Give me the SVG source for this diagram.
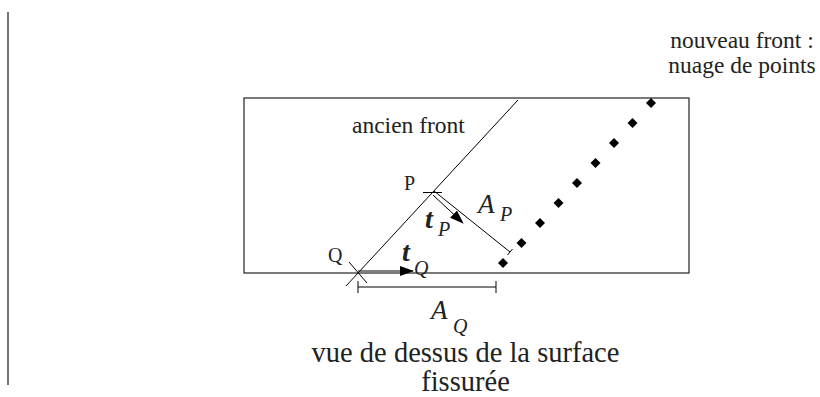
<svg xmlns="http://www.w3.org/2000/svg" width="820" height="397" viewBox="0 0 820 397">
<style>
.ln{stroke:#000;stroke-width:1;fill:none}
text{font-family:'Liberation Serif','Times New Roman',serif;fill:#222}
.it{font-style:italic}
.b{font-weight:bold;font-style:italic}
.pt{fill:#000}
</style>
<defs>
<marker id="ah" markerWidth="14" markerHeight="10" refX="13" refY="5" orient="auto" markerUnits="userSpaceOnUse">
<path d="M0,0 L14,5 L0,10 Z" fill="#000"/>
</marker>
<path id="dia" d="M0,-5 L5,0 L0,5 L-5,0 Z"/>
</defs>
<rect width="820" height="397" fill="#fff"/>
<line x1="8" y1="12" x2="8" y2="385" stroke="#444" stroke-width="1.5"/>
<g id="surface">
<rect x="244" y="98" width="445" height="175" fill="none" stroke="#333" stroke-width="1.3"/>
</g>
<g id="ancien-front">
<line class="ln" x1="518" y1="100" x2="346" y2="286"/>
<text x="352" y="133" font-size="23.5">ancien front</text>
</g>
<g id="nouveau-front">
<use href="#dia" class="pt" x="503" y="263"/>
<use href="#dia" class="pt" x="521.5" y="243"/>
<use href="#dia" class="pt" x="540" y="223"/>
<use href="#dia" class="pt" x="558.5" y="203"/>
<use href="#dia" class="pt" x="577" y="183"/>
<use href="#dia" class="pt" x="595.5" y="163"/>
<use href="#dia" class="pt" x="614" y="143"/>
<use href="#dia" class="pt" x="632.5" y="123"/>
<use href="#dia" class="pt" x="651" y="103"/>
<text x="742" y="48" font-size="23.5" text-anchor="middle">nouveau front :</text>
<text x="742" y="73" font-size="23.5" text-anchor="middle">nuage de points</text>
</g>
<g id="P">
<line class="ln" x1="423" y1="192.5" x2="442" y2="192.5"/>
<text x="404" y="190" font-size="20">P</text>
</g>
<g id="Q">
<line class="ln" x1="349" y1="262" x2="367" y2="283"/>
<text x="328" y="262" font-size="20">Q</text>
</g>
<g id="connectors">
<line class="ln" x1="434" y1="191" x2="510" y2="252"/>
<line class="ln" x1="507.5" y1="255" x2="512.5" y2="249"/>
<line class="ln" x1="433" y1="195" x2="463" y2="223" marker-end="url(#ah)"/>
<line class="ln" x1="358" y1="271" x2="413" y2="271" marker-end="url(#ah)"/>
<line class="ln" x1="358" y1="287" x2="496" y2="287"/>
<line class="ln" x1="358" y1="281" x2="358" y2="293"/>
<line class="ln" x1="496" y1="281" x2="496" y2="293"/>
</g>
<g id="labels">
<text class="b" x="425" y="228" font-size="28">t</text>
<text class="it" x="438" y="236" font-size="20">P</text>
<text class="b" x="402" y="261" font-size="28">t</text>
<text class="it" x="414" y="275" font-size="20">Q</text>
<text class="it" x="478" y="213" font-size="27">A</text>
<text class="it" x="500" y="221" font-size="20">P</text>
<text class="it" x="431" y="319" font-size="27">A</text>
<text class="it" x="453" y="333" font-size="20">Q</text>
<text x="465.5" y="362" font-size="28.5" text-anchor="middle">vue de dessus de la surface</text>
<text x="465.5" y="391" font-size="28.5" text-anchor="middle">fissurée</text>
</g>
</svg>
